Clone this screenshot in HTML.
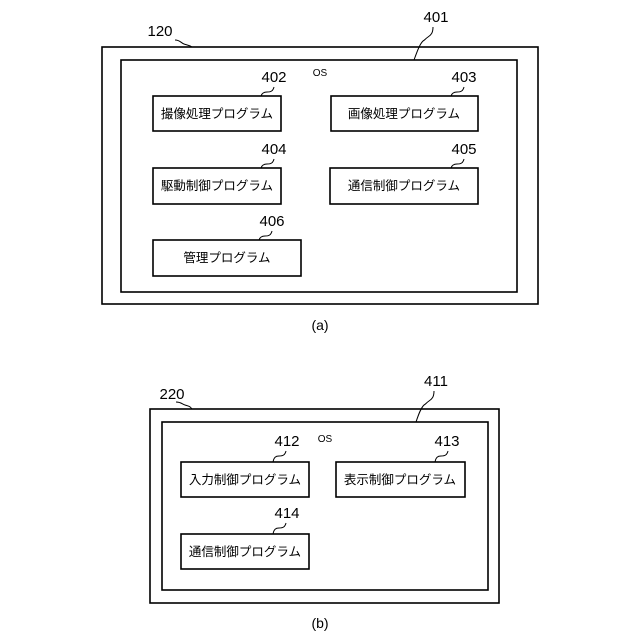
<!DOCTYPE html>
<html><head><meta charset="utf-8"><style>html,body{margin:0;background:#fff}svg{display:block}text{font-family:"Liberation Sans","Noto Sans CJK JP",sans-serif;fill:#000}</style></head>
<body>
<svg width="640" height="640" viewBox="0 0 640 640" xmlns="http://www.w3.org/2000/svg">
<g fill="none" stroke="#000" stroke-width="1.6">
<rect x="102" y="47" width="436" height="257"/>
<rect x="121" y="60" width="396" height="232"/>
<rect x="153" y="96" width="128" height="35"/>
<rect x="331" y="96" width="147" height="35"/>
<rect x="153" y="168" width="128" height="36"/>
<rect x="330" y="168" width="148" height="36"/>
<rect x="153" y="240" width="148" height="36"/>
<rect x="150" y="409" width="349" height="194"/>
<rect x="162" y="422" width="326" height="168"/>
<rect x="181" y="462" width="128" height="35"/>
<rect x="336" y="462" width="129" height="35"/>
<rect x="181" y="534" width="128" height="35"/>
</g>
<g fill="none" stroke="#000" stroke-width="1">
<path d="M175,40 c5,0 6,3 9,4 c3,1 5,1 8,3"/>
<path d="M433,27 c0,6 -2,8 -5,10 c-3,2 -3,3 -5,4 c-3,3 -5,8 -9,19"/>
<path d="M274,87 c-1,4 -3,5 -7,5 c-3,0 -5,1 -6,4"/>
<path d="M464,87 c-1,4 -3,5 -7,5 c-3,0 -5,1 -6,4"/>
<path d="M274,159 c-1,4 -3,5 -7,5 c-3,0 -5,1 -6,4"/>
<path d="M464,159 c-1,4 -3,5 -7,5 c-3,0 -5,1 -6,4"/>
<path d="M272,231 c-1,4 -3,5 -7,5 c-3,0 -5,1 -6,4"/>
<path d="M176,402 c5,0 6,2 9,3 c3,1 5,1 7,4"/>
<path d="M434,391 c0,6 -2,8 -5,10 c-3,2 -3,3 -5,4 c-3,3 -5,8 -8,17"/>
<path d="M286,451 c-1,4 -3,5 -7,5 c-3,0 -5,1 -6,6"/>
<path d="M448,451 c-1,4 -3,5 -7,5 c-3,0 -5,1 -6,6"/>
<path d="M286,523 c-1,4 -3,5 -7,5 c-3,0 -5,1 -6,6"/>
</g>
<g font-size="15" text-anchor="middle">
<text x="160" y="36">120</text>
<text x="436" y="22">401</text>
<text x="274" y="82">402</text>
<text x="464" y="82">403</text>
<text x="274" y="154">404</text>
<text x="464" y="154">405</text>
<text x="272" y="226">406</text>
<text x="172" y="399">220</text>
<text x="436" y="386">411</text>
<text x="287" y="446">412</text>
<text x="447" y="446">413</text>
<text x="287" y="518">414</text>
</g>
<g font-size="10" text-anchor="middle">
<text x="320" y="76">OS</text>
<text x="325" y="442">OS</text>
</g>
<g font-size="12.5" text-anchor="middle">
<text x="217" y="118">撮像処理プログラム</text>
<text x="404" y="118">画像処理プログラム</text>
<text x="217" y="190">駆動制御プログラム</text>
<text x="404" y="190">通信制御プログラム</text>
<text x="227" y="262">管理プログラム</text>
<text x="245" y="484">入力制御プログラム</text>
<text x="400" y="484">表示制御プログラム</text>
<text x="245" y="556">通信制御プログラム</text>
</g>
<g font-size="14" text-anchor="middle">
<text x="320" y="330">(a)</text>
<text x="320" y="628">(b)</text>
</g>
</svg>
</body></html>
